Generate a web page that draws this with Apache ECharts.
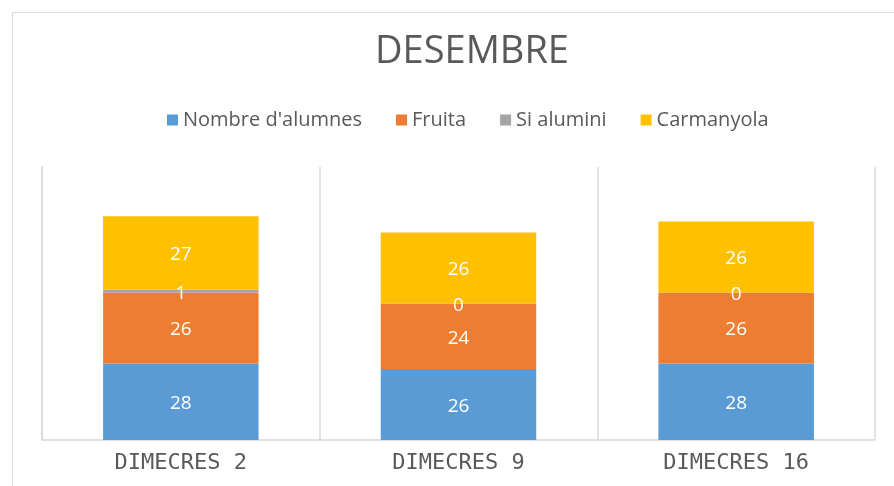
<!DOCTYPE html>
<html>
<head>
<meta charset="utf-8">
<script src="https://cdn.jsdelivr.net/npm/echarts@6/dist/echarts.min.js"></script>
<style>
  html, body { margin: 0; padding: 0; background: #fff; }
  #chart { width: 894px; height: 486px; }
</style>
</head>
<body>
<div id="chart"></div>
<script>
var categories = ['DIMECRES 2', 'DIMECRES 9', 'DIMECRES 16'];
var seriesNames = ["Nombre d'alumnes", 'Fruita', 'Si alumini', 'Carmanyola'];
var alumnes = [28, 26, 28];
var fruita = [26, 24, 26];
var siAlumini = [1, 0, 0];
var carmanyola = [27, 26, 26];
var yTicks = [0, 100];

var colors = ['#5B9BD5', '#ED7D31', '#A5A5A5', '#FFC000'];
var values = [alumnes, fruita, siAlumini, carmanyola];
var textGray = '#595959';
var rule = '#d9d9d9';

var chart = echarts.init(document.getElementById('chart'), null, { renderer: 'canvas' });

chart.setOption({
  animation: false,
  title: {
    text: 'DESEMBRE',
    left: 467,
    textAlign: 'center',
    top: 28,
    textStyle: { color: textGray, fontSize: 38, fontWeight: 'normal', fontFamily: 'Open Sans' }
  },
  legend: {
    top: 105,
    left: 162,
    icon: 'rect',
    itemWidth: 11,
    itemHeight: 11,
    itemGap: 34,
    textStyle: { color: textGray, fontSize: 20, fontFamily: 'Open Sans' },
    data: seriesNames
  },
  graphic: [{
    type: 'rect',
    shape: { x: 12.5, y: 12.5, width: 900, height: 500 },
    style: { fill: 'none', stroke: rule, lineWidth: 1 },
    silent: true
  }],
  grid: { left: 42, right: 19, top: 167, bottom: 46 },
  xAxis: {
    type: 'category',
    data: categories,
    axisLine: { lineStyle: { color: rule, width: 1.5 } },
    axisTick: { show: false },
    splitLine: { show: true, lineStyle: { color: rule, width: 1.5 } },
    axisLabel: { color: textGray, fontSize: 22, fontFamily: 'DejaVu Sans Mono', margin: 12 }
  },
  yAxis: {
    type: 'value',
    min: yTicks[0],
    max: yTicks[1],
    axisLine: { show: true, lineStyle: { color: rule, width: 1.5 } },
    axisTick: { show: false },
    axisLabel: { show: false },
    splitLine: { show: false }
  },
  series: seriesNames.map(function (name, i) {
    return {
      name: name,
      type: 'bar',
      stack: 'total',
      barCategoryGap: '44%',
      data: values[i],
      itemStyle: { color: colors[i] },
      label: {
        show: true,
        position: 'inside',
        color: '#fff',
        fontSize: 19,
        fontFamily: 'Open Sans',
        offset: [0, 2]
      }
    };
  })
});
</script>
</body>
</html>
